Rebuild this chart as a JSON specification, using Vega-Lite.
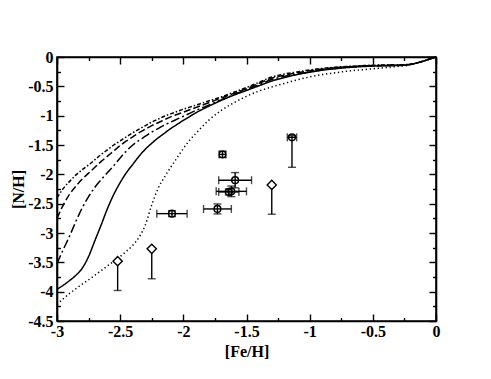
{
 "$schema": "https://vega.github.io/schema/vega-lite/v6.json",
 "width": 379, "height": 264,
 "autosize": {"type": "none"},
 "padding": {"left": 57, "top": 57, "right": 55, "bottom": 58},
 "background": "white",
 "config": {
  "view": {"stroke": "black", "strokeWidth": 1.6},
  "axis": {"domainColor": "black", "domainWidth": 1.6, "tickColor": "black", "tickWidth": 1.4, "grid": false,
           "labelFont": "Liberation Serif", "labelFontWeight": "bold", "labelFontSize": 16, "labelColor": "black",
           "titleFont": "Liberation Serif", "titleFontWeight": "bold", "titleFontSize": 16, "titleColor": "black"}
 },
 "datasets": {
  "curves": [
   {"x": -3, "A": -2.40, "B": -2.75, "C": -3.52, "D": -3.96, "E": -4.22},
   {"x": -2.95, "A": -2.24, "B": -2.52, "C": -3.28, "D": -3.89, "E": -4.12},
   {"x": -2.9, "A": -2.12, "B": -2.34, "C": -3.05, "D": -3.81, "E": -4.03},
   {"x": -2.85, "A": -2.01, "B": -2.20, "C": -2.80, "D": -3.72, "E": -3.95},
   {"x": -2.8, "A": -1.92, "B": -2.08, "C": -2.57, "D": -3.60, "E": -3.87},
   {"x": -2.75, "A": -1.84, "B": -1.98, "C": -2.38, "D": -3.40, "E": -3.80},
   {"x": -2.7, "A": -1.75, "B": -1.88, "C": -2.22, "D": -3.13, "E": -3.72},
   {"x": -2.65, "A": -1.66, "B": -1.78, "C": -2.09, "D": -2.86, "E": -3.64},
   {"x": -2.6, "A": -1.58, "B": -1.69, "C": -1.97, "D": -2.58, "E": -3.56},
   {"x": -2.55, "A": -1.50, "B": -1.60, "C": -1.85, "D": -2.34, "E": -3.48},
   {"x": -2.5, "A": -1.43, "B": -1.51, "C": -1.72, "D": -2.14, "E": -3.40},
   {"x": -2.45, "A": -1.36, "B": -1.43, "C": -1.60, "D": -1.97, "E": -3.31},
   {"x": -2.4, "A": -1.29, "B": -1.36, "C": -1.50, "D": -1.83, "E": -3.21},
   {"x": -2.35, "A": -1.23, "B": -1.29, "C": -1.42, "D": -1.69, "E": -3.07},
   {"x": -2.3, "A": -1.17, "B": -1.23, "C": -1.35, "D": -1.57, "E": -2.86},
   {"x": -2.25, "A": -1.11, "B": -1.17, "C": -1.28, "D": -1.47, "E": -2.52},
   {"x": -2.2, "A": -1.06, "B": -1.12, "C": -1.22, "D": -1.38, "E": -2.24},
   {"x": -2.15, "A": -1.01, "B": -1.07, "C": -1.16, "D": -1.30, "E": -2.05},
   {"x": -2.1, "A": -0.97, "B": -1.02, "C": -1.11, "D": -1.22, "E": -1.88},
   {"x": -2.05, "A": -0.93, "B": -0.98, "C": -1.06, "D": -1.15, "E": -1.72},
   {"x": -2.0, "A": -0.89, "B": -0.94, "C": -1.01, "D": -1.08, "E": -1.56},
   {"x": -1.95, "A": -0.855, "B": -0.90, "C": -0.96, "D": -1.015, "E": -1.42},
   {"x": -1.9, "A": -0.82, "B": -0.86, "C": -0.91, "D": -0.95, "E": -1.30},
   {"x": -1.8, "A": -0.75, "B": -0.78, "C": -0.82, "D": -0.84, "E": -1.08},
   {"x": -1.7, "A": -0.68, "B": -0.70, "C": -0.73, "D": -0.74, "E": -0.91},
   {"x": -1.6, "A": -0.60, "B": -0.62, "C": -0.64, "D": -0.65, "E": -0.78},
   {"x": -1.5, "A": -0.52, "B": -0.54, "C": -0.555, "D": -0.57, "E": -0.67},
   {"x": -1.4, "A": -0.43, "B": -0.45, "C": -0.47, "D": -0.49, "E": -0.58},
   {"x": -1.3, "A": -0.34, "B": -0.36, "C": -0.385, "D": -0.41, "E": -0.51},
   {"x": -1.2, "A": -0.29, "B": -0.31, "C": -0.33, "D": -0.35, "E": -0.45},
   {"x": -1.1, "A": -0.255, "B": -0.27, "C": -0.29, "D": -0.30, "E": -0.39},
   {"x": -1.0, "A": -0.22, "B": -0.235, "C": -0.25, "D": -0.26, "E": -0.34},
   {"x": -0.9, "A": -0.195, "B": -0.205, "C": -0.22, "D": -0.225, "E": -0.30},
   {"x": -0.8, "A": -0.175, "B": -0.18, "C": -0.195, "D": -0.20, "E": -0.27},
   {"x": -0.7, "A": -0.16, "B": -0.165, "C": -0.175, "D": -0.18, "E": -0.24},
   {"x": -0.6, "A": -0.15, "B": -0.155, "C": -0.16, "D": -0.165, "E": -0.22},
   {"x": -0.5, "A": -0.14, "B": -0.145, "C": -0.15, "D": -0.155, "E": -0.20},
   {"x": -0.4, "A": -0.135, "B": -0.14, "C": -0.145, "D": -0.15, "E": -0.18},
   {"x": -0.3, "A": -0.13, "B": -0.135, "C": -0.14, "D": -0.145, "E": -0.16},
   {"x": -0.25, "A": -0.13, "B": -0.135, "C": -0.138, "D": -0.14, "E": -0.15},
   {"x": -0.2, "A": -0.125, "B": -0.125, "C": -0.125, "D": -0.125, "E": -0.13},
   {"x": -0.15, "A": -0.10, "B": -0.10, "C": -0.10, "D": -0.10, "E": -0.10},
   {"x": -0.1, "A": -0.07, "B": -0.07, "C": -0.07, "D": -0.07, "E": -0.07},
   {"x": -0.05, "A": -0.035, "B": -0.035, "C": -0.035, "D": -0.035, "E": -0.035},
   {"x": 0, "A": 0, "B": 0, "C": 0, "D": 0, "E": 0}
  ],
  "stars": [
   {"kind": "d", "x": -2.52, "y": -3.48, "ybot": -3.98, "ytop": -3.48},
   {"kind": "d", "x": -2.25, "y": -3.27, "ybot": -3.78, "ytop": -3.27},
   {"kind": "d", "x": -1.30, "y": -2.18, "ybot": -2.68, "ytop": -2.18},
   {"kind": "c", "x": -1.14, "y": -1.37, "ybot": -1.88, "ytop": -1.34, "xlo": -1.177, "xhi": -1.103},
   {"kind": "c", "x": -1.69, "y": -1.66, "ybot": -1.71, "ytop": -1.61, "xlo": -1.715, "xhi": -1.665},
   {"kind": "c", "x": -1.59, "y": -2.10, "ybot": -2.23, "ytop": -1.97, "xlo": -1.72, "xhi": -1.46},
   {"kind": "c", "x": -1.62, "y": -2.29, "ybot": -2.38, "ytop": -2.20, "xlo": -1.74, "xhi": -1.50},
   {"kind": "c", "x": -1.64, "y": -2.30, "ybot": -2.35, "ytop": -2.25, "xlo": -1.72, "xhi": -1.56},
   {"kind": "c", "x": -1.73, "y": -2.59, "ybot": -2.675, "ytop": -2.505, "xlo": -1.84, "xhi": -1.62},
   {"kind": "c", "x": -2.09, "y": -2.67, "ybot": -2.72, "ytop": -2.62, "xlo": -2.21, "xhi": -1.97}
  ]
 },
 "layer": [
  {
   "data": {"name": "curves"},
   "transform": [{"fold": ["A", "B", "C", "D", "E"], "as": ["m", "y"]}],
   "mark": {"type": "line", "color": "black", "strokeWidth": 1.5, "interpolate": "monotone"},
   "encoding": {
    "x": {"field": "x", "type": "quantitative", "scale": {"domain": [-3, 0], "nice": false, "zero": false},
          "axis": {"orient": "bottom", "title": "[Fe/H]", "values": [-3, -2.75, -2.5, -2.25, -2, -1.75, -1.5, -1.25, -1, -0.75, -0.5, -0.25, 0],
                   "tickSize": {"condition": {"test": "datum.value % 0.5 == 0", "value": -7}, "value": -3.5},
                   "labelExpr": "datum.value % 0.5 == 0 ? '' + datum.value : ''", "labelPadding": 9, "titlePadding": 4, "labelFlush": false}},
    "y": {"field": "y", "type": "quantitative", "scale": {"domain": [-4.5, 0], "nice": false, "zero": false},
          "axis": {"orient": "left", "title": "[N/H]", "values": [-4.5, -4.25, -4, -3.75, -3.5, -3.25, -3, -2.75, -2.5, -2.25, -2, -1.75, -1.5, -1.25, -1, -0.75, -0.5, -0.25, 0],
                   "tickSize": {"condition": {"test": "datum.value % 0.5 == 0", "value": -7}, "value": -3.5},
                   "labelExpr": "datum.value % 0.5 == 0 ? '' + datum.value : ''", "labelPadding": 11, "titlePadding": 1, "labelFlush": false}},
    "strokeDash": {"field": "m", "type": "nominal", "legend": null,
                   "scale": {"domain": ["A", "B", "C", "D", "E"], "range": [[4, 2, 1.5, 2], [7, 3], [9, 3, 2, 3], [1, 0], [1.3, 2.7]]}}
   }
  },
  {
   "data": {"name": "stars"},
   "mark": {"type": "rule", "color": "black", "strokeWidth": 1.4},
   "encoding": {
    "x": {"field": "x", "type": "quantitative", "scale": {"domain": [-3, 0], "nice": false, "zero": false},
          "axis": {"orient": "top", "title": null, "labels": false, "values": [-3, -2.75, -2.5, -2.25, -2, -1.75, -1.5, -1.25, -1, -0.75, -0.5, -0.25, 0],
                   "tickSize": {"condition": {"test": "datum.value % 0.5 == 0", "value": -7}, "value": -3.5}}},
    "y": {"field": "ybot", "type": "quantitative", "scale": {"domain": [-4.5, 0], "nice": false, "zero": false},
          "axis": {"orient": "right", "title": null, "labels": false, "values": [-4.5, -4.25, -4, -3.75, -3.5, -3.25, -3, -2.75, -2.5, -2.25, -2, -1.75, -1.5, -1.25, -1, -0.75, -0.5, -0.25, 0],
                   "tickSize": {"condition": {"test": "datum.value % 0.5 == 0", "value": -7}, "value": -3.5}}},
    "y2": {"field": "ytop"}
   }
  },
  {
   "data": {"name": "stars"},
   "transform": [{"filter": "datum.xlo != null"}],
   "mark": {"type": "rule", "color": "black", "strokeWidth": 1.4},
   "encoding": {
    "x": {"field": "xlo", "type": "quantitative", "scale": {"domain": [-3, 0], "nice": false, "zero": false}, "axis": null},
    "x2": {"field": "xhi"},
    "y": {"field": "y", "type": "quantitative", "scale": {"domain": [-4.5, 0], "nice": false, "zero": false}, "axis": null}
   }
  },
  {
   "data": {"name": "stars"},
   "mark": {"type": "tick", "color": "black", "orient": "horizontal", "size": 8, "thickness": 1.4},
   "encoding": {
    "x": {"field": "x", "type": "quantitative", "scale": {"domain": [-3, 0], "nice": false, "zero": false}, "axis": null},
    "y": {"field": "ybot", "type": "quantitative", "scale": {"domain": [-4.5, 0], "nice": false, "zero": false}, "axis": null}
   }
  },
  {
   "data": {"name": "stars"},
   "mark": {"type": "tick", "color": "black", "orient": "horizontal", "size": 8, "thickness": 1.4},
   "encoding": {
    "x": {"field": "x", "type": "quantitative", "scale": {"domain": [-3, 0], "nice": false, "zero": false}, "axis": null},
    "y": {"field": "ytop", "type": "quantitative", "scale": {"domain": [-4.5, 0], "nice": false, "zero": false}, "axis": null}
   }
  },
  {
   "data": {"name": "stars"},
   "transform": [{"filter": "datum.xlo != null"}],
   "mark": {"type": "tick", "color": "black", "orient": "vertical", "size": 8, "thickness": 1.4},
   "encoding": {
    "x": {"field": "xlo", "type": "quantitative", "scale": {"domain": [-3, 0], "nice": false, "zero": false}, "axis": null},
    "y": {"field": "y", "type": "quantitative", "scale": {"domain": [-4.5, 0], "nice": false, "zero": false}, "axis": null}
   }
  },
  {
   "data": {"name": "stars"},
   "transform": [{"filter": "datum.xlo != null"}],
   "mark": {"type": "tick", "color": "black", "orient": "vertical", "size": 8, "thickness": 1.4},
   "encoding": {
    "x": {"field": "xhi", "type": "quantitative", "scale": {"domain": [-3, 0], "nice": false, "zero": false}, "axis": null},
    "y": {"field": "y", "type": "quantitative", "scale": {"domain": [-4.5, 0], "nice": false, "zero": false}, "axis": null}
   }
  },
  {
   "data": {"name": "stars"},
   "transform": [{"filter": "datum.kind == 'd'"}],
   "mark": {"type": "point", "shape": "diamond", "size": 85, "filled": true, "fill": "white", "stroke": "black", "strokeWidth": 1.4, "opacity": 1},
   "encoding": {
    "x": {"field": "x", "type": "quantitative", "scale": {"domain": [-3, 0], "nice": false, "zero": false}, "axis": null},
    "y": {"field": "y", "type": "quantitative", "scale": {"domain": [-4.5, 0], "nice": false, "zero": false}, "axis": null}
   }
  },
  {
   "data": {"name": "stars"},
   "transform": [{"filter": "datum.kind == 'c'"}],
   "mark": {"type": "point", "shape": "circle", "size": 45, "filled": false, "stroke": "black", "strokeWidth": 1.5, "opacity": 1},
   "encoding": {
    "x": {"field": "x", "type": "quantitative", "scale": {"domain": [-3, 0], "nice": false, "zero": false}, "axis": null},
    "y": {"field": "y", "type": "quantitative", "scale": {"domain": [-4.5, 0], "nice": false, "zero": false}, "axis": null}
   }
  }
 ],
 "resolve": {"axis": {"x": "independent", "y": "independent"}}
}
